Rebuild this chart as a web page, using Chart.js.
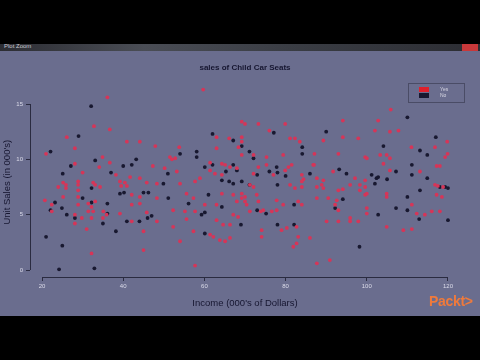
<!DOCTYPE html>
<html>
<head>
<meta charset="utf-8">
<script src="https://cdn.jsdelivr.net/npm/chart.js@4"></script>
<style>
    html, body { margin: 0; padding: 0; background: #000; }
    #frame { position: absolute; left: 0; top: 0; width: 480px; height: 360px; overflow: hidden; background: #000; }
    #titlebar { position: absolute; left: 0; top: 44px; width: 480px; height: 7px;
        background: linear-gradient(90deg, #2c2d33, #4a4d55 30%, #3a3d44 60%, #2c2d33); }
    #titlebar span { position: absolute; left: 4px; top: -1px; font: 6px "Liberation Sans", Arial, sans-serif; color: #c8c8d0; }
    #titlebar i { position: absolute; right: 2px; top: 0; width: 16px; height: 7px; background: #c8383a; }
    #plotbg { position: absolute; left: 0; top: 51px; width: 480px; height: 265px; background: #6a6d8e; }
    #wrap { position: absolute; left: 0; top: 0; width: 480px; height: 360px; }
    #legend { position: absolute; left: 408px; top: 83px; width: 55px; height: 18px;
        border: 1px solid #4a4c66; font: 5px "Liberation Sans", Arial, sans-serif; color: #d8d8e4; }
    #legend div { position: absolute; left: 10px; height: 5px; }
    #legend b { display: inline-block; width: 10px; height: 5px; vertical-align: top; }
    #legend em { font-style: normal; position: absolute; left: 21px; top: 0; line-height: 5px; }
    #packt { position: absolute; left: 429px; top: 293px; font: bold 14px "Liberation Sans", Arial, sans-serif;
        color: #ef7a3c; letter-spacing: -0.3px; }
</style>
</head>
<body>
<div id="frame">
    <div id="titlebar"><span>Plot Zoom</span><i></i></div>
    <div id="plotbg"></div>
    <div id="wrap"><canvas id="carseatChart" width="480" height="360"></canvas></div>
    <div id="legend"></div>
    <div id="packt">Packt&gt;</div>
</div>
<script>
// Child car seats: income vs unit sales, split by group
const groups = ['Yes', 'No'];
const groupColors = ['#d63558', '#181830'];

const yesIncome = [36.1, 32.8, 26.1, 36.7, 28.1, 40.9, 44.1, 47.9, 21.0, 34.9, 36.7, 28.1, 47.3, 52.0, 50.2, 30.0,
    38.2, 34.1, 41.7, 44.1, 25.2, 28.9, 32.6, 39.2, 40.4, 45.8, 24.0, 25.9, 25.9, 28.9, 28.9, 33.1, 34.3, 39.5,
    40.9, 48.3, 42.1, 44.1, 42.1, 44.1, 48.3, 20.7, 22.4, 22.4, 25.2, 28.9, 28.9, 31.4, 33.1, 32.2, 31.4, 32.6,
    35.1, 35.9, 28.1, 29.8, 32.2, 28.1, 35.0, 39.2, 42.1, 48.3, 45.8, 31.0, 45.0, 32.2, 45.0, 52.3,
    59.7, 69.2, 70.0, 73.3, 76.0, 79.9, 63.0, 66.1, 69.2, 69.2, 68.4, 53.8, 63.0, 81.1, 82.3, 83.5, 69.2, 72.1,
    75.3, 79.4, 51.5, 52.8, 61.4, 64.3, 65.1, 61.4, 62.6, 64.3, 66.3, 68.0, 72.1, 73.3, 75.3, 77.0, 79.9, 80.7,
    81.5, 84.0, 84.4, 86.8, 53.2, 58.9, 57.7,
    71.2, 72.1, 81.1, 82.3, 84.0, 84.0, 54.0, 55.6, 57.3, 64.3, 67.1, 69.2, 70.0, 69.2, 72.9, 73.3, 70.0, 70.4,
    68.0, 60.1, 63.0, 77.8, 79.4, 83.1, 84.0, 52.3, 55.2, 57.7, 55.6, 67.1, 68.3, 71.2, 73.9, 74.5, 76.6, 77.8,
    63.0, 64.6, 66.3, 74.1, 74.1, 79.0, 80.3, 82.7, 83.1, 86.0, 57.3, 61.4, 62.2, 63.8, 65.1, 66.3, 54.0, 81.9,
    82.7, 57.7,
    105.9, 94.1, 102.8, 102.0, 105.7, 107.8, 94.1, 97.9, 89.3, 119.8, 111.0, 116.8, 87.1, 93.0, 99.6, 100.0,
    103.3, 104.9, 105.7, 119.3, 119.9, 87.0, 117.2, 118.0, 104.1, 105.7, 113.1, 91.7, 97.1, 99.6, 87.7, 89.3,
    87.7, 88.9, 89.3, 93.0, 94.1, 95.9, 98.3, 98.3, 99.6, 99.6, 100.0, 104.9, 104.9, 116.8, 117.5, 118.8,
    117.2, 118.5, 87.7, 90.5, 92.6, 92.2, 93.0, 111.1, 100.0, 100.0, 112.3, 114.3, 116.0, 118.0, 90.1, 93.0,
    95.9, 97.9, 95.9, 104.9, 109.0, 111.1, 90.9, 87.7];
const yesSales = [15.6, 13.0, 12.0, 12.7, 11.0, 11.6, 11.6, 11.2, 10.5, 10.2, 9.7, 9.6, 9.4, 10.0, 9.2, 8.8,
    8.6, 9.3, 8.4, 8.3, 7.9, 8.0, 7.9, 8.0, 7.9, 7.9, 7.5, 7.7, 7.4, 7.7, 7.2, 7.7, 7.5, 7.6,
    7.6, 7.8, 6.8, 6.6, 5.9, 6.0, 6.5, 6.3, 5.9, 5.3, 6.6, 6.6, 5.9, 6.0, 6.2, 5.7, 5.3, 5.3,
    5.3, 5.0, 5.0, 4.7, 4.7, 4.2, 4.7, 5.1, 4.4, 4.4, 5.2, 3.7, 3.5, 1.5, 1.8, 3.9,
    16.3, 13.4, 13.2, 13.2, 12.6, 13.2, 12.0, 11.9, 12.0, 11.6, 11.1, 11.1, 11.0, 11.9, 11.9, 11.6, 10.4, 10.4,
    10.2, 10.4, 10.2, 10.1, 9.7, 9.6, 9.5, 9.0, 8.7, 8.6, 9.3, 9.2, 8.7, 9.3, 9.5, 8.6, 9.0, 9.3,
    9.5, 8.6, 8.2, 9.5, 8.9, 8.3, 8.0,
    7.7, 7.5, 7.7, 7.4, 7.5, 8.0, 7.8, 6.9, 6.5, 6.9, 6.8, 6.9, 6.6, 6.5, 6.8, 6.2, 6.2, 5.9,
    6.2, 5.9, 5.9, 6.3, 5.9, 6.2, 5.9, 5.4, 5.3, 5.3, 4.6, 5.0, 4.8, 5.3, 5.3, 5.4, 5.3, 5.4,
    4.5, 4.1, 4.1, 3.6, 3.0, 3.6, 3.8, 3.9, 3.0, 2.9, 3.5, 3.2, 3.0, 2.7, 2.6, 2.9, 2.6, 2.1,
    2.4, 0.4,
    14.5, 13.5, 13.5, 12.6, 12.5, 12.6, 12.0, 11.9, 11.7, 11.6, 11.1, 11.1, 10.5, 10.5, 10.2, 10.1,
    10.4, 10.4, 10.1, 10.2, 10.5, 9.5, 9.4, 9.4, 9.6, 9.0, 8.9, 8.9, 8.3, 8.1, 8.3, 8.1,
    7.5, 7.7, 7.4, 7.2, 7.3, 7.7, 7.7, 7.2, 7.5, 6.8, 6.9, 6.9, 6.6, 7.7, 7.6, 7.5,
    6.8, 6.6, 6.5, 6.5, 6.3, 5.9, 5.4, 5.9, 5.6, 5.1, 5.1, 5.0, 5.3, 5.3, 4.4, 4.4,
    4.4, 4.4, 4.7, 3.9, 3.6, 3.7, 0.9, 0.6];

const noIncome = [32.1, 29.0, 22.1, 33.1, 27.1, 40.0, 42.1, 43.2, 25.1, 37.0, 51.0, 49.9, 32.2, 39.2, 40.2,
    45.0, 46.2, 51.1, 23.2, 22.1, 24.9, 30.0, 32.2, 36.1, 36.1, 26.1, 28.1, 35.0, 40.9, 44.0, 46.0, 47.0,
    38.2, 21.0, 25.0, 24.2, 32.9,
    62.0, 77.1, 67.1, 69.2, 84.1, 58.1, 58.1, 54.0, 71.1, 72.1, 84.1, 60.1, 62.0, 65.3, 67.1, 68.0, 73.0,
    76.0, 77.8, 78.0, 80.0, 86.0, 64.3, 66.1, 67.1, 69.2, 71.1, 78.0, 61.0, 56.1, 64.3, 82.1, 59.3, 60.1,
    73.0, 75.2, 69.0, 78.0, 82.1, 60.1,
    110.0, 90.0, 117.0, 104.1, 113.1, 114.9, 111.1, 101.2, 102.4, 102.8, 107.2, 111.1, 95.0, 93.2, 114.9,
    105.0, 102.0, 110.0, 113.1, 118.0, 119.3, 120.0, 92.2, 94.1, 107.2, 110.0, 102.8, 112.9, 120.0, 98.2];
const noSales = [14.8, 12.1, 10.7, 9.9, 9.4, 9.4, 9.5, 10.0, 8.7, 8.8, 8.7, 7.8, 7.4, 6.9, 7.0,
    7.0, 7.0, 6.5, 6.1, 5.4, 5.6, 6.5, 6.1, 6.0, 5.1, 5.0, 4.7, 4.2, 4.4, 4.4, 4.7, 4.9,
    3.5, 3.0, 2.2, 0.06, 0.15,
    12.3, 12.4, 11.7, 11.2, 11.1, 10.7, 10.2, 10.5, 10.7, 10.1, 10.5, 9.3, 9.5, 8.9, 9.5, 9.0, 8.6,
    8.9, 9.3, 8.8, 8.5, 8.7, 8.1, 8.0, 7.8, 8.0, 7.7, 7.7, 6.8, 6.0, 5.7, 5.9, 5.0, 5.2,
    5.4, 5.1, 4.1, 4.1, 4.1, 3.3,
    13.8, 12.5, 12.0, 11.2, 10.8, 10.4, 9.5, 8.6, 8.3, 8.4, 8.9, 8.6, 8.7, 9.1, 8.3,
    8.2, 7.8, 6.6, 7.2, 7.5, 7.5, 7.4, 5.6, 6.4, 5.6, 5.4, 5.0, 4.6, 4.5, 2.1];

const xTicks = [20, 40, 60, 80, 100, 120];
const yTicks = [0, 5, 10, 15];

const toPoints = (xs, ys) => xs.map((x, i) => ({ x: x, y: ys[i] }));

// R-style axis line, only between first and last tick
const rAxes = {
    id: 'rAxes',
    afterDraw(chart) {
        const ctx = chart.ctx;
        const xs = chart.scales.x, ys = chart.scales.y;
        const area = chart.chartArea;
        ctx.save();
        ctx.strokeStyle = '#2a2b40';
        ctx.lineWidth = 1;
        ctx.beginPath();
        ctx.moveTo(xs.getPixelForValue(xTicks[0]), area.bottom + 0.5);
        ctx.lineTo(xs.getPixelForValue(xTicks[xTicks.length - 1]), area.bottom + 0.5);
        ctx.moveTo(area.left + 0.5, ys.getPixelForValue(yTicks[0]));
        ctx.lineTo(area.left + 0.5, ys.getPixelForValue(yTicks[yTicks.length - 1]));
        ctx.stroke();
        ctx.restore();
    }
};

const ctx = document.getElementById('carseatChart').getContext('2d');
const carseatChart = new Chart(ctx, {
    type: 'scatter',
    data: {
        datasets: [{
            label: groups[0],
            data: toPoints(yesIncome, yesSales),
            backgroundColor: groupColors[0],
            borderWidth: 0,
            pointRadius: 1.9,
            clip: false
        }, {
            label: groups[1],
            data: toPoints(noIncome, noSales),
            backgroundColor: groupColors[1],
            borderWidth: 0,
            pointRadius: 1.9,
            clip: false
        }]
    },
    options: {
        responsive: false,
        animation: false,
        layout: { padding: { top: 55, right: 20, bottom: 44, left: 0 } },
        scales: {
            x: {
                type: 'linear',
                min: 17.04,
                max: 122.96,
                afterBuildTicks: (scale) => { scale.ticks = xTicks.map(v => ({ value: v })); },
                afterFit: (scale) => { scale.height = 39; },
                border: { display: false },
                grid: { drawOnChartArea: false, drawTicks: true, tickLength: 4, color: '#2a2b40' },
                ticks: {
                    padding: 2,
                    maxRotation: 0,
                    color: '#dcdcea',
                    font: { family: 'Liberation Sans', size: 6 }
                },
                title: {
                    display: true,
                    text: "Income (000's of Dollars)",
                    color: '#161630',
                    font: { family: 'Liberation Sans', size: 9.5 },
                    padding: { top: 0, bottom: 7.3 }
                }
            },
            y: {
                type: 'linear',
                min: -0.632,
                max: 16.5,
                afterBuildTicks: (scale) => { scale.ticks = yTicks.map(v => ({ value: v })); },
                afterFit: (scale) => { scale.width = 30; },
                border: { display: false },
                grid: { drawOnChartArea: false, drawTicks: true, tickLength: 4, color: '#2a2b40' },
                ticks: {
                    padding: 3,
                    color: '#dcdcea',
                    font: { family: 'Liberation Sans', size: 6 }
                },
                title: {
                    display: true,
                    text: "Unit Sales (in 000's)",
                    color: '#161630',
                    font: { family: 'Liberation Sans', size: 9.5 },
                    padding: { top: 1.8, bottom: 0 }
                }
            }
        },
        plugins: {
            legend: { display: false },
            tooltip: { enabled: false },
            title: {
                display: true,
                fullSize: false,
                text: 'sales of Child Car Seats',
                color: '#161630',
                font: { family: 'Liberation Sans', size: 8, weight: 'bold' },
                padding: { top: 8.2, bottom: 14.6 }
            }
        }
    },
    plugins: [rAxes]
});

// Legend box built from the datasets
const legendBox = document.getElementById('legend');
carseatChart.data.datasets.forEach((ds, i) => {
    const row = document.createElement('div');
    row.style.top = (3 + i * 6) + 'px';
    row.innerHTML = '<b style="background:' + (i === 0 ? '#e0202c' : groupColors[1]) + '"></b><em>' + ds.label + '</em>';
    legendBox.appendChild(row);
});
</script>
</body>
</html>
